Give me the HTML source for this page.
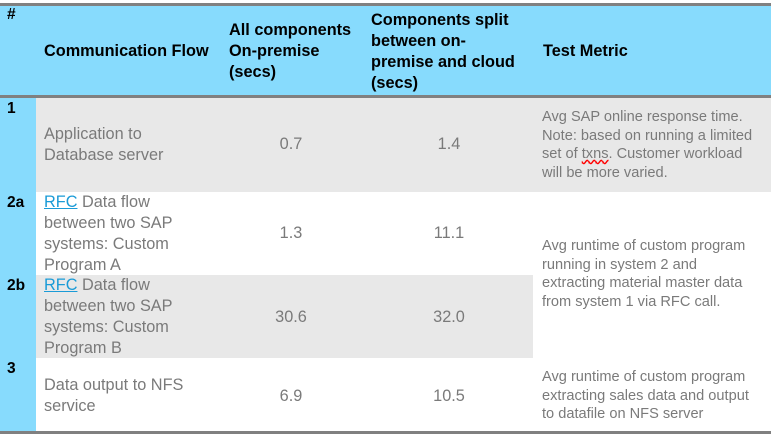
<!DOCTYPE html>
<html><head><style>
body{margin:0;width:775px;height:438px;background:#fff;font-family:"Liberation Sans",Arial,sans-serif;position:relative;overflow:hidden}
div{position:absolute;white-space:nowrap}
.h{font-weight:bold;font-size:16.3px;color:#000;line-height:21px}
.t{font-size:16.3px;color:#7a7a7a;line-height:21px}
.m{font-size:14.6px;color:#7a7a7a;line-height:18.5px}
.n{font-weight:bold;font-size:15.5px;color:#000}
.c{text-align:center}
a{color:#1a9bd7;text-decoration:underline}
</style></head><body>
<div style="left:0;top:3px;width:771px;height:3px;background:#808080"></div>
<div style="left:0;top:6px;width:771px;height:90px;background:#87dbfd"></div>
<div style="left:0;top:95px;width:771px;height:3px;background:#808080"></div>
<div style="left:0;top:98px;width:36px;height:334px;background:#87dbfd"></div>
<div style="left:36px;top:98px;width:735px;height:94px;background:#e8e8e8"></div>
<div style="left:36px;top:275px;width:497px;height:83px;background:#e8e8e8"></div>
<div style="left:0;top:431px;width:771px;height:3px;background:#808080"></div>

<div class="n" style="left:7px;top:6px">#</div>
<div class="h" style="left:44px;top:41px">Communication Flow</div>
<div class="h" style="left:229px;top:20px">All components<br>On-premise<br>(secs)</div>
<div class="h" style="left:371px;top:10px">Components split<br>between on-<br>premise and cloud<br>(secs)</div>
<div class="h" style="left:543px;top:41px">Test Metric</div>

<div class="n" style="left:7px;top:100px">1</div>
<div class="t" style="left:44px;top:124px">Application to<br>Database server</div>
<div class="t c" style="left:216px;top:134px;width:150px">0.7</div>
<div class="t c" style="left:365px;top:134px;width:168px">1.4</div>
<div class="m" style="left:542px;top:108px">Avg SAP online response time.<br>Note: based on running a limited<br>set of <span style="text-decoration:underline wavy red">txns</span>. Customer workload<br>will be more varied.</div>

<div class="n" style="left:7px;top:194px">2a</div>
<div class="t" style="left:44px;top:192px"><a>RFC</a> Data flow<br>between two SAP<br>systems: Custom<br>Program A</div>
<div class="t c" style="left:216px;top:223px;width:150px">1.3</div>
<div class="t c" style="left:365px;top:223px;width:168px">11.1</div>
<div class="m" style="left:542px;top:237px">Avg runtime of custom program<br>running in system 2 and<br>extracting material master data<br>from system 1 via RFC call.</div>

<div class="n" style="left:7px;top:277px">2b</div>
<div class="t" style="left:44px;top:275px"><a>RFC</a> Data flow<br>between two SAP<br>systems: Custom<br>Program B</div>
<div class="t c" style="left:216px;top:307px;width:150px">30.6</div>
<div class="t c" style="left:365px;top:307px;width:168px">32.0</div>

<div class="n" style="left:7px;top:360px">3</div>
<div class="t" style="left:44px;top:375px">Data output to NFS<br>service</div>
<div class="t c" style="left:216px;top:386px;width:150px">6.9</div>
<div class="t c" style="left:365px;top:386px;width:168px">10.5</div>
<div class="m" style="left:542px;top:368px">Avg runtime of custom program<br>extracting sales data and output<br>to datafile on NFS server</div>
</body></html>
